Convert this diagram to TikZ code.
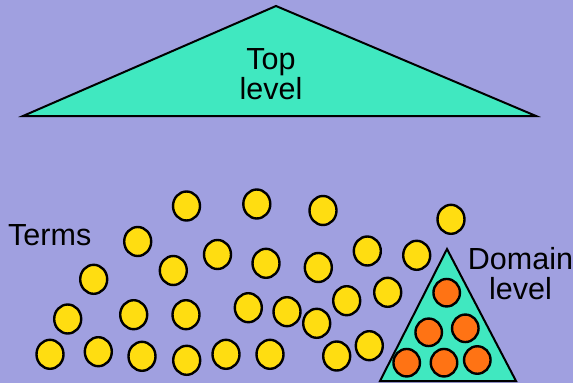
\documentclass[tikz,border=0pt]{standalone}
\usepackage{fontspec}
\setmainfont{Liberation Sans}
\usetikzlibrary{shapes.geometric}
\definecolor{bg}{RGB}{160,160,224}
\definecolor{teal1}{RGB}{64,232,192}
\definecolor{yel}{RGB}{255,221,17}
\definecolor{ora}{RGB}{255,115,20}
\tikzset{
  term/.style={ellipse, draw=black, fill=yel, line width=2.4pt, minimum width=27pt, minimum height=29pt, inner sep=0pt},
  dterm/.style={ellipse, draw=black, fill=ora, line width=2.4pt, minimum width=26.5pt, minimum height=27.5pt, inner sep=0pt},
  level/.style={line width=2pt, draw=black, fill=teal1, line join=miter},
  lbl/.style={font=\fontsize{30.5}{29.5}\selectfont, align=center, inner sep=0pt, text=black}
}
\begin{document}
\begin{tikzpicture}[x=1pt,y=-1pt]
\fill[bg] (0,0) rectangle (573,383);
\useasboundingbox (0,0) rectangle (573,383);
% top level triangle
\coordinate (ta) at (276,6);
\coordinate (tl) at (23,116);
\coordinate (tr) at (536,116);
\draw[level] (ta) -- (tr) -- (tl) -- cycle;
\node[lbl, anchor=base] (toplbl) at (271,99.3) {Top\\level};
% domain level triangle
\coordinate (da) at (447,249);
\coordinate (dl) at (380,381);
\coordinate (dr) at (516,381);
\draw[level] (da) -- (dr) -- (dl) -- cycle;
\node[lbl, anchor=base] (domlbl) at (520.5,299) {Domain\\level};
\node[lbl, anchor=base west] (terms) at (8,245) {Terms};
% yellow terms
\node[term] (t1) at (186.5,206) {};
\node[term] (t2) at (256.8,204) {};
\node[term] (t3) at (323,210.5) {};
\node[term] (t4) at (451,219.3) {};
\node[term] (t5) at (137.7,241.5) {};
\node[term] (t6) at (217.5,254.5) {};
\node[term] (t7) at (173.3,270.5) {};
\node[term] (t8) at (266,263.3) {};
\node[term] (t9) at (318.3,267.5) {};
\node[term] (t10) at (367.3,251) {};
\node[term] (t11) at (416.7,255.3) {};
\node[term] (t12) at (93.7,279.3) {};
\node[term] (t13) at (67.7,319) {};
\node[term] (t14) at (133.7,314.7) {};
\node[term] (t15) at (186,314.7) {};
\node[term] (t16) at (248.3,307.7) {};
\node[term] (t17) at (287,311.7) {};
\node[term] (t18) at (316.7,323.3) {};
\node[term] (t19) at (346.7,300.7) {};
\node[term] (t20) at (387.7,292.3) {};
\node[term] (t21) at (50,354.3) {};
\node[term] (t22) at (98.3,351.7) {};
\node[term] (t23) at (142,356.3) {};
\node[term] (t24) at (186.7,360.3) {};
\node[term] (t25) at (226,354.3) {};
\node[term] (t26) at (270,354.3) {};
\node[term] (t27) at (336.7,356) {};
\node[term] (t28) at (369.3,345.7) {};
% orange domain terms
\node[dterm] (d1) at (446.7,292.7) {};
\node[dterm] (d2) at (428.7,332.3) {};
\node[dterm] (d3) at (465.3,328.3) {};
\node[dterm] (d4) at (406.7,362.7) {};
\node[dterm] (d5) at (444,362.7) {};
\node[dterm] (d6) at (477.3,360) {};
\end{tikzpicture}
\end{document}
